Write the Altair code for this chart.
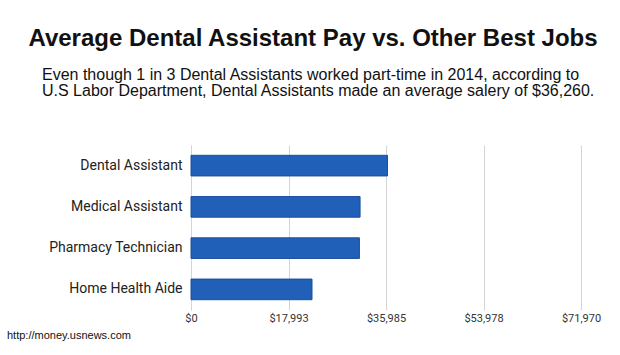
import altair as alt
import pandas as pd

jobs = ["Dental Assistant", "Medical Assistant", "Pharmacy Technician", "Home Health Aide"]
pay = [36260, 31200, 31080, 22330]
tick_values = [0, 17993, 35985, 53978, 71970]

title_text = "Average Dental Assistant Pay vs. Other Best Jobs"
subtitle_text = ("Even though 1 in 3 Dental Assistants worked part-time in 2014, according to\n"
                 "U.S Labor Department, Dental Assistants made an average salery of $36,260.")
source_text = "http://money.usnews.com"

df = pd.DataFrame({"job": jobs, "pay": pay})

bars = alt.Chart(df).mark_bar(
    color="#2160b9", stroke="#1a4f9e", strokeWidth=1
).encode(
    x=alt.X("pay:Q",
            scale=alt.Scale(domain=[0, 71970], nice=False, zero=True),
            axis=alt.Axis(values=tick_values, format="$,.0f", title=None,
                          grid=True, gridColor="#d4d4d4", domain=False, ticks=False,
                          labelFont="Roboto", labelFontSize=11, labelColor="#333333",
                          labelPadding=2, labelFlush=False)),
    y=alt.Y("job:N", sort=jobs,
            scale=alt.Scale(paddingInner=0.5, paddingOuter=0.25),
            axis=alt.Axis(title=None, domain=False, ticks=False, grid=False,
                          labelFont="Roboto", labelFontSize=14, labelColor="#222222",
                          labelPadding=9))
)

title = alt.Chart(pd.DataFrame({"t": [title_text]})).mark_text(
    font="Liberation Sans", fontWeight="bold", fontSize=24, color="#111111",
    align="center", baseline="alphabetic"
).encode(text="t:N", x=alt.value(122), y=alt.value(-99))

subtitle = alt.Chart(pd.DataFrame({"t": [subtitle_text]})).mark_text(
    font="Liberation Sans", fontSize=16, color="#111111", lineBreak="\n", lineHeight=16,
    align="left", baseline="alphabetic"
).encode(text="t:N", x=alt.value(-149), y=alt.value(-65.5))

source = alt.Chart(pd.DataFrame({"t": [source_text]})).mark_text(
    font="Liberation Sans", fontSize=11, color="#111111",
    align="left", baseline="alphabetic"
).encode(text="t:N", x=alt.value(-184), y=alt.value(194))

chart = alt.layer(bars, title, subtitle, source).properties(
    width=390, height=165,
    autosize=alt.AutoSizeParams(type="none"),
    padding={"left": 191, "top": 145, "right": 39, "bottom": 45},
    background="white"
).configure_view(stroke=None)

chart.save("out.html", embed_options={"renderer": "svg", "actions": False})
